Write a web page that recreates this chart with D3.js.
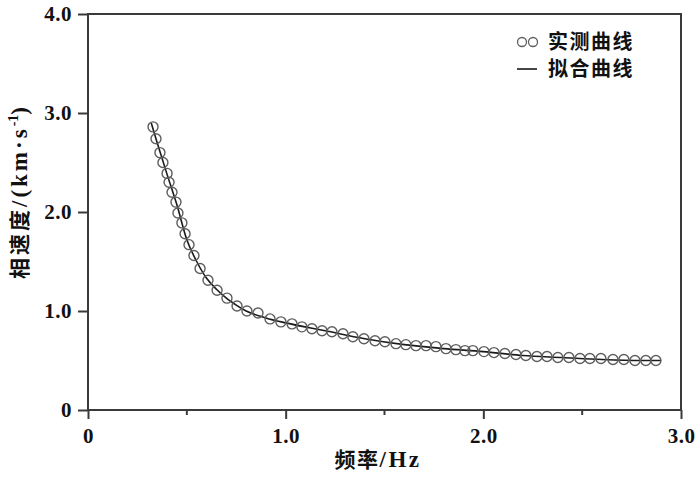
<!DOCTYPE html>
<html lang="zh">
  <head>
    <meta charset="utf-8" />
    <title>相速度</title>
    <script src="https://d3js.org/d3.v7.min.js"></script>
    <style>
      html, body { margin: 0; padding: 0; background: #fff; }
    </style>
  </head>
  <body>
    <div id="root"></div>
  <script>

// measured points (实测曲线)
const measuredFreq = [0.329, 0.344, 0.364, 0.379, 0.400, 0.410, 0.425, 0.445, 0.455, 0.475,
  0.491, 0.511, 0.536, 0.567, 0.607, 0.653, 0.703, 0.754, 0.804, 0.860,
  0.921, 0.976, 1.032, 1.082, 1.133, 1.184, 1.234, 1.290, 1.340, 1.396,
  1.452, 1.502, 1.558, 1.608, 1.659, 1.710, 1.760, 1.811, 1.861, 1.907,
  1.947, 2.003, 2.054, 2.109, 2.165, 2.215, 2.271, 2.322, 2.377, 2.433,
  2.489, 2.539, 2.595, 2.656, 2.711, 2.767, 2.822, 2.873]
const measuredVel = [2.86, 2.74, 2.60, 2.50, 2.39, 2.30, 2.20, 2.10, 1.99, 1.89,
  1.78, 1.67, 1.56, 1.43, 1.31, 1.21, 1.13, 1.05, 1.00, 0.98,
  0.92, 0.89, 0.87, 0.84, 0.82, 0.80, 0.79, 0.77, 0.74, 0.72,
  0.70, 0.69, 0.67, 0.66, 0.65, 0.65, 0.64, 0.62, 0.61, 0.60,
  0.60, 0.59, 0.58, 0.57, 0.56, 0.55, 0.54, 0.54, 0.53, 0.53,
  0.52, 0.52, 0.52, 0.51, 0.51, 0.50, 0.50, 0.50]

// fitted curve (拟合曲线)
const fitFreq = [0.32, 0.35, 0.40, 0.45, 0.50, 0.55, 0.60, 0.65, 0.70, 0.75, 0.80, 0.90,
  1.00, 1.20, 1.40, 1.60, 1.80, 2.00, 2.20, 2.40, 2.60, 2.80, 2.90]
const fitVel = [2.90, 2.70, 2.38, 2.07, 1.72, 1.50, 1.33, 1.22, 1.13, 1.06, 1.00, 0.93,
  0.88, 0.80, 0.72, 0.66, 0.62, 0.59, 0.55, 0.53, 0.51, 0.50, 0.50]

const xTicks = [0, 1, 2, 3]
const xMinorTicks = [0.5, 1.5, 2.5]
const yTicks = [0, 1, 2, 3, 4]
const legendLabels = ["实测曲线", "拟合曲线"]

const width = 700, height = 477
const margin = {left: 88, right: 19, top: 14, bottom: 67}
const serif = "'Liberation Serif', 'DejaVu Serif', serif"
const cjk = "'Noto Sans CJK SC', sans-serif"
const axisColor = "#3a3a3a"

const x = d3.scaleLinear().domain([0, 3]).range([margin.left, width - margin.right])
const y = d3.scaleLinear().domain([0, 4]).range([height - margin.bottom, margin.top])
const fmt = d => d === 0 ? "0" : d3.format(".1f")(d)

const svg = d3.select("#root").append("svg")
    .attr("width", width)
    .attr("height", height)
    .attr("viewBox", [0, 0, width, height])

// frame
svg.append("rect")
    .attr("x", x(0))
    .attr("y", y(4))
    .attr("width", x(3) - x(0))
    .attr("height", y(0) - y(4))
    .attr("fill", "none")
    .attr("stroke", axisColor)
    .attr("stroke-width", 2)

// x axis
const xAxis = svg.append("g")
    .attr("transform", `translate(0,${y(0)})`)
    .call(d3.axisBottom(x).tickValues(xTicks).tickFormat(fmt).tickSize(9).tickPadding(9))
xAxis.select(".domain").remove()
xAxis.selectAll("line").attr("stroke", axisColor).attr("stroke-width", 2)
xAxis.selectAll("text")
    .attr("font-family", serif)
    .attr("font-weight", "bold")
    .attr("font-size", 21)
    .attr("letter-spacing", 0.5)
    .attr("fill", "#111")

svg.append("g")
    .attr("transform", `translate(0,${y(0)})`)
    .selectAll("line")
    .data(xMinorTicks)
    .join("line")
      .attr("x1", d => x(d)).attr("x2", d => x(d))
      .attr("y1", 0).attr("y2", 5)
      .attr("stroke", axisColor)
      .attr("stroke-width", 2)

// y axis
const yAxis = svg.append("g")
    .attr("transform", `translate(${x(0)},0)`)
    .call(d3.axisLeft(y).tickValues(yTicks).tickFormat(fmt).tickSize(10).tickPadding(6))
yAxis.select(".domain").remove()
yAxis.selectAll("line").attr("stroke", axisColor).attr("stroke-width", 2)
yAxis.selectAll("text")
    .attr("font-family", serif)
    .attr("font-weight", "bold")
    .attr("font-size", 21)
    .attr("letter-spacing", 0.5)
    .attr("fill", "#111")

// fitted line
const pts = d3.zip(fitFreq, fitVel)
svg.append("path")
    .datum(pts)
    .attr("fill", "none")
    .attr("stroke", "#1a1a1a")
    .attr("stroke-width", 1.6)
    .attr("d", d3.line().x(d => x(d[0])).y(d => y(d[1])).curve(d3.curveMonotoneX))

// measured points
svg.append("g")
    .selectAll("circle")
    .data(d3.zip(measuredFreq, measuredVel))
    .join("circle")
      .attr("cx", d => x(d[0]))
      .attr("cy", d => y(d[1]))
      .attr("r", 5)
      .attr("fill", "none")
      .attr("stroke", "#5e5e5e")
      .attr("stroke-width", 1.4)

// axis titles
const xt = svg.append("text")
    .attr("x", 378)
    .attr("y", 467)
    .attr("text-anchor", "middle")
    .attr("fill", "#111")
    .attr("font-size", 21)
xt.append("tspan").attr("font-family", cjk).attr("font-weight", "bold")
    .attr("letter-spacing", 1.5).text("频率")
xt.append("tspan").attr("font-family", serif).attr("font-weight", "bold")
    .attr("font-size", 23).attr("letter-spacing", 2.5).text("/Hz")

const yt = svg.append("text")
    .attr("transform", "translate(27,193) rotate(-90)")
    .attr("text-anchor", "middle")
    .attr("fill", "#111")
    .attr("font-size", 21)
yt.append("tspan").attr("font-family", cjk).attr("font-weight", "bold")
    .attr("letter-spacing", 3).text("相速度")
yt.append("tspan").attr("font-family", serif).attr("font-weight", "bold")
    .attr("font-size", 23).attr("letter-spacing", 3).text("/(km·s")
yt.append("tspan").attr("font-family", serif).attr("font-weight", "bold")
    .attr("font-size", 14).attr("dy", -9).text("-1")
yt.append("tspan").attr("font-family", serif).attr("font-weight", "bold")
    .attr("font-size", 23).attr("dy", 9).text(")")

// legend
const legend = svg.append("g").attr("transform", "translate(517,42)")
legend.selectAll("circle")
    .data([522, 533])
    .join("circle")
      .attr("cx", d => d - 517)
      .attr("cy", 0)
      .attr("r", 4.5)
      .attr("fill", "none")
      .attr("stroke", "#5e5e5e")
      .attr("stroke-width", 1.3)
legend.append("line")
    .attr("x1", 0).attr("x2", 20)
    .attr("y1", 27).attr("y2", 27)
    .attr("stroke", "#1a1a1a")
    .attr("stroke-width", 1.6)
legend.selectAll("text")
    .data(legendLabels)
    .join("text")
      .attr("x", 31)
      .attr("y", (d, i) => 7 + i * 27)
      .attr("font-family", cjk)
      .attr("font-weight", "bold")
      .attr("font-size", 20)
      .attr("letter-spacing", 1.5)
      .attr("fill", "#111")
      .text(d => d)

  </script>
  </body>
</html>
